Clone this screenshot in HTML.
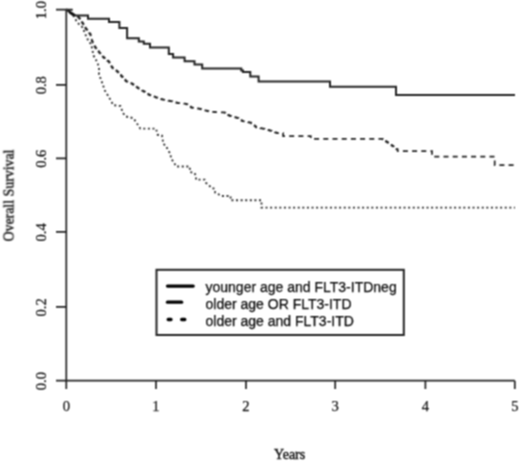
<!DOCTYPE html>
<html>
<head>
<meta charset="utf-8">
<style>
html,body{margin:0;padding:0;background:#fff;}
body{width:520px;height:461px;overflow:hidden;}
svg{display:block;}
.tk{font-family:"Liberation Serif",serif;font-size:14.6px;fill:#111;stroke:#111;stroke-width:0.25px;}
.ti{font-family:"Liberation Serif",serif;font-size:14px;fill:#111;stroke:#111;stroke-width:0.4px;}
.lg{font-family:"Liberation Sans",sans-serif;font-size:14px;fill:#0a0a0a;stroke:#0a0a0a;stroke-width:0.25px;}
</style>
</head>
<body>
<svg width="520" height="461" viewBox="0 0 520 461">
<defs><filter id="bl" filterUnits="userSpaceOnUse" x="0" y="0" width="520" height="461" color-interpolation-filters="sRGB"><feConvolveMatrix order="3" kernelMatrix="1 2 1 2 4 2 1 2 1" edgeMode="duplicate"/></filter></defs>
<g filter="url(#bl)">
<rect x="0" y="0" width="520" height="461" fill="#fff"/>
<g stroke="#222" stroke-width="1.7" fill="none">
<path d="M66.3 9.7 V380.7 H514.8"/>
<path d="M56 9.7 H66.3 M56 84.8 H66.3 M56 158.3 H66.3 M56 231.9 H66.3 M56 306.9 H66.3 M56 380.7 H66.3"/>
<path d="M66.3 380.7 V389 M156 380.7 V389 M246 380.7 V389 M335.2 380.7 V389 M425.4 380.7 V389 M514.8 380.7 V389"/>
</g>
<g class="tk" text-anchor="middle">
<text transform="translate(46.3,10.1) rotate(-90)">1.0</text><text transform="translate(46.3,85.2) rotate(-90)">0.8</text><text transform="translate(46.3,158.7) rotate(-90)">0.6</text><text transform="translate(46.3,232.3) rotate(-90)">0.4</text><text transform="translate(46.3,307.3) rotate(-90)">0.2</text><text transform="translate(46.3,381.1) rotate(-90)">0.0</text>
</g>
<g class="tk" text-anchor="middle">
<text x="66.3" y="411">0</text><text x="156" y="411">1</text><text x="246" y="411">2</text><text x="335.2" y="411">3</text><text x="425.4" y="411">4</text><text x="514.8" y="411">5</text>
</g>
<text class="ti" text-anchor="middle" transform="translate(13.8,195.4) rotate(-90) scale(0.99,1.1)">Overall Survival</text>
<text class="ti" x="289.6" y="458.8" text-anchor="middle">Years</text>
<path fill="none" stroke="#222" stroke-width="2.0" d="M66 9.7 H72.7 M69 11.5 L75.4 15.5 H88 V18.7 H109 V21.9 H119.4 V28.1 H127.1 V38.2 H138.8 V41.4 H143.8 V43.8 H150 V47.4 H168.8 V54 H173.1 V57.6 H184.6 V61.2 H194.5 V64.6 H202.2 V68.5 H241.3 V70.5 H243 V71.9 H250.3 V76.4 H258.6 V81.4 H330 V86.8 H396 V94.9 H515"/>
<path fill="none" stroke="#222" stroke-width="1.7" stroke-dasharray="5 4.2" d="M66.00 9.70 H66.75 V10.15 H67.50 V10.60 H68.25 V11.05 H69.00 V11.50 H69.88 V12.19 H70.75 V12.88 H71.62 V13.56 H72.50 V14.25 H73.25 V14.62 H74.00 V15.00 H74.75 V15.38 H75.50 V15.75 H76.25 V16.12 H77.00 V16.50 H77.75 V16.88 H78.50 V17.25 H79.04 V18.06 H79.59 V18.86 H80.13 V19.67 H80.67 V20.48 H81.21 V21.29 H81.76 V22.09 H82.30 V22.90 H82.77 V23.69 H83.25 V24.47 H83.72 V25.26 H84.20 V26.05 H84.67 V26.84 H85.15 V27.62 H85.62 V28.41 H86.10 V29.20 H86.71 V29.97 H87.33 V30.74 H87.94 V31.51 H88.56 V32.29 H89.17 V33.06 H89.79 V33.83 H90.40 V34.60 H90.60 V35.41 H90.80 V36.23 H91.00 V37.04 H91.20 V37.85 H91.40 V38.66 H91.60 V39.48 H91.80 V40.29 H92.00 V41.10 H92.41 V41.93 H92.83 V42.75 H93.24 V43.58 H93.65 V44.40 H94.06 V45.23 H94.47 V46.05 H94.89 V46.88 H95.30 V47.70 H95.93 V48.50 H96.57 V49.30 H97.20 V50.10 H97.83 V50.90 H98.47 V51.70 H99.10 V52.50 H99.82 V53.32 H100.53 V54.13 H101.25 V54.95 H101.97 V55.77 H102.68 V56.58 H103.40 V57.40 H104.17 V58.03 H104.94 V58.66 H105.71 V59.29 H106.49 V59.91 H107.26 V60.54 H108.03 V61.17 H108.80 V61.80 H109.27 V62.64 H109.74 V63.49 H110.21 V64.33 H110.69 V65.17 H111.16 V66.01 H111.63 V66.86 H112.10 V67.70 H112.95 V68.35 H113.80 V69.00 H114.65 V69.65 H115.50 V70.30 H116.35 V70.95 H117.20 V71.60 H117.92 V72.40 H118.65 V73.20 H119.38 V74.00 H120.10 V74.80 H120.83 V75.60 H121.55 V76.40 H122.28 V77.20 H123.00 V78.00 H123.73 V78.80 H124.45 V79.60 H125.18 V80.40 H125.90 V81.20 H126.66 V81.53 H127.43 V81.85 H128.19 V82.17 H128.95 V82.50 H129.71 V82.83 H130.47 V83.15 H131.24 V83.47 H132.00 V83.80 H132.75 V84.34 H133.50 V84.88 H134.25 V85.41 H135.00 V85.95 H135.75 V86.49 H136.50 V87.02 H137.25 V87.56 H138.00 V88.10 H138.79 V88.58 H139.57 V89.06 H140.36 V89.54 H141.14 V90.01 H141.93 V90.49 H142.71 V90.97 H143.50 V91.45 H144.29 V91.93 H145.07 V92.41 H145.86 V92.89 H146.64 V93.36 H147.43 V93.84 H148.21 V94.32 H149.00 V94.80 H149.76 V95.08 H150.51 V95.36 H151.27 V95.63 H152.02 V95.91 H152.78 V96.19 H153.53 V96.47 H154.29 V96.74 H155.04 V97.02 H155.80 V97.30 H156.57 V97.56 H157.33 V97.81 H158.10 V98.07 H158.87 V98.32 H159.63 V98.58 H160.40 V98.83 H161.17 V99.09 H161.93 V99.34 H162.70 V99.60 H163.51 V99.76 H164.32 V99.92 H165.13 V100.08 H165.94 V100.24 H166.75 V100.40 H167.56 V100.56 H168.37 V100.72 H169.18 V100.88 H169.99 V101.04 H170.80 V101.20 H171.57 V101.41 H172.33 V101.62 H173.10 V101.83 H173.87 V102.04 H174.63 V102.26 H175.40 V102.47 H176.17 V102.68 H176.93 V102.89 H177.70 V103.10 H178.51 V103.17 H179.32 V103.24 H180.13 V103.31 H180.94 V103.38 H181.75 V103.45 H182.56 V103.52 H183.37 V103.59 H184.18 V103.66 H184.99 V103.73 H185.80 V103.80 H186.61 V104.36 H187.43 V104.91 H188.24 V105.47 H189.06 V106.03 H189.87 V106.59 H190.69 V107.14 H191.50 V107.70 H192.31 V107.81 H193.12 V107.92 H193.93 V108.03 H194.74 V108.14 H195.55 V108.25 H196.36 V108.36 H197.17 V108.47 H197.98 V108.58 H198.79 V108.69 H199.60 V108.80 H200.41 V109.04 H201.22 V109.28 H202.03 V109.52 H202.84 V109.76 H203.65 V110.00 H204.46 V110.24 H205.27 V110.48 H206.08 V110.72 H206.89 V110.96 H207.70 V111.20 H208.47 V111.29 H209.23 V111.38 H210.00 V111.47 H210.77 V111.57 H211.53 V111.66 H212.30 V111.75 H213.07 V111.84 H213.83 V111.93 H214.60 V112.03 H215.37 V112.12 H216.13 V112.21 H216.90 V112.30 H217.67 V112.30 H218.43 V112.30 H219.20 V112.30 H219.97 V112.30 H220.73 V112.30 H221.50 V112.30 H222.27 V112.30 H223.03 V112.30 H223.80 V112.30 H224.63 V112.80 H225.46 V113.30 H226.29 V113.80 H227.11 V114.30 H227.94 V114.80 H228.77 V115.30 H229.60 V115.80 H230.41 V116.03 H231.22 V116.26 H232.03 V116.49 H232.84 V116.72 H233.65 V116.95 H234.46 V117.18 H235.27 V117.41 H236.08 V117.64 H236.89 V117.87 H237.70 V118.10 H238.47 V118.60 H239.23 V119.10 H240.00 V119.60 H240.77 V120.10 H241.53 V120.60 H242.30 V121.10 H243.11 V121.26 H243.92 V121.42 H244.73 V121.58 H245.54 V121.74 H246.35 V121.90 H247.16 V122.06 H247.97 V122.22 H248.78 V122.38 H249.59 V122.54 H250.40 V122.70 H251.23 V123.36 H252.06 V124.01 H252.89 V124.67 H253.71 V125.33 H254.54 V125.99 H255.37 V126.64 H256.20 V127.30 H257.04 V127.47 H257.87 V127.65 H258.71 V127.82 H259.55 V127.99 H260.38 V128.16 H261.22 V128.34 H262.05 V128.51 H262.89 V128.68 H263.73 V128.85 H264.56 V129.03 H265.40 V129.20 H266.16 V129.42 H266.92 V129.64 H267.68 V129.86 H268.44 V130.08 H269.20 V130.30 H270.01 V130.58 H270.82 V130.86 H271.63 V131.14 H272.44 V131.42 H273.25 V131.70 H274.06 V131.98 H274.87 V132.26 H275.68 V132.54 H276.49 V132.82 H277.30 V133.10 H283.10 V136.10 H310.80 V138.80 H382.00 H382.76 V139.31 H383.51 V139.83 H384.27 V140.34 H385.03 V140.86 H385.79 V141.37 H386.54 V141.89 H387.30 V142.40 H388.13 V142.99 H388.96 V143.57 H389.79 V144.16 H390.61 V144.74 H391.44 V145.33 H392.27 V145.91 H393.10 V146.50 H393.87 V147.08 H394.63 V147.67 H395.40 V148.25 H396.17 V148.83 H396.93 V149.42 H397.70 V150.00 V151.20 H432.00 V156.60 H494.70 V165.10 H515.00"/>
<path fill="none" stroke="#333" stroke-width="1.9" stroke-dasharray="2 2.6" d="M66.00 9.70 L69.00 11.50 L72.50 14.25 L75.50 19.25 L77.00 22.25 L82.80 27.60 L85.00 33.60 L87.70 39.50 L91.50 45.00 L92.00 48.70 L93.70 55.80 L96.40 60.70 L98.50 65.60 L99.10 69.30 L99.00 74.20 L101.60 81.20 L104.80 90.40 L109.10 97.40 L113.40 105.20 L120.40 106.00 L123.00 113.00 L125.60 116.40 L133.40 118.20 L136.90 123.40 L140.30 128.60 H156.00 L157.70 134.80 L162.00 135.50 L163.40 144.00 L166.20 146.00 L167.60 149.60 L170.40 153.80 L171.10 158.70 L173.90 162.30 L176.00 166.50 H189.70 L190.10 172.10 L194.40 172.80 L196.00 176.00 V179.60 H204.60 L206.10 183.00 L208.90 184.90 L210.90 187.80 L214.70 188.75 L215.20 192.60 L218.10 194.00 L221.00 196.00 H230.60 V200.30 H261.50 V207.60 H515.00"/>
<path d="M70 12.4 L73.5 14.8" stroke="#111" stroke-width="2.8" stroke-linecap="round" fill="none"/>
<rect x="156.5" y="269.8" width="247.3" height="65.2" fill="none" stroke="#222" stroke-width="2"/>
<g stroke="#000" stroke-width="3.3" stroke-linecap="round" fill="none">
<path d="M167.5 286.1 H193.2"/>
<path d="M167.5 302.2 H181.6"/>
<path d="M168.2 319.5 H171 M181.7 319.5 H184.8"/>
</g>
<g class="lg">
<text x="205.5" y="292">younger age and FLT3-ITDneg</text>
<text x="205.5" y="309">older age OR FLT3-ITD</text>
<text x="205.5" y="326">older age and FLT3-ITD</text>
</g>
</g>
</svg>
</body>
</html>
